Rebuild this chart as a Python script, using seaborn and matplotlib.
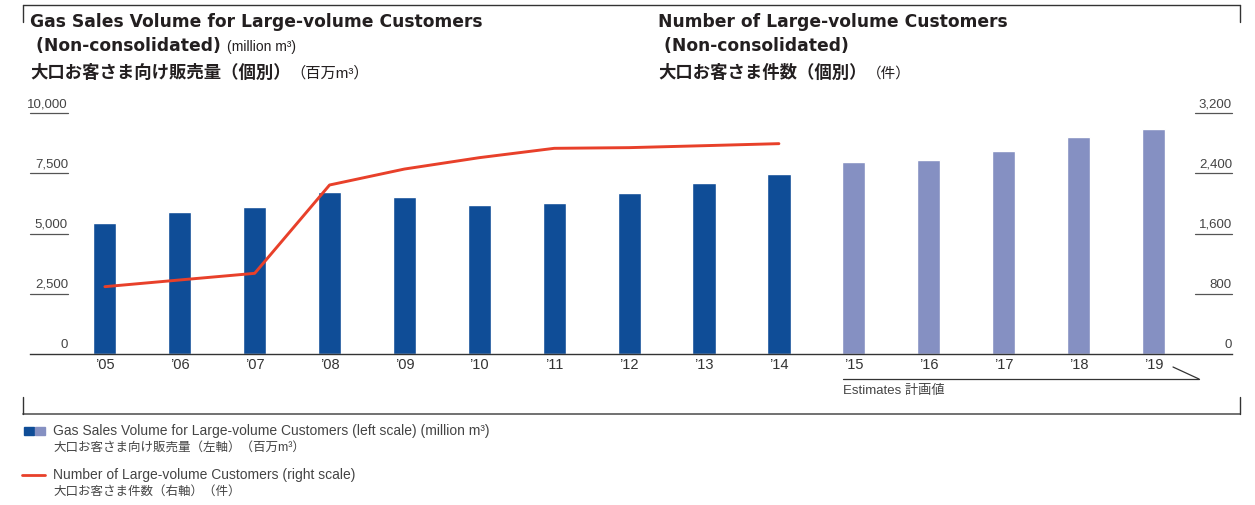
import matplotlib
matplotlib.use("Agg")
import matplotlib.pyplot as plt
from matplotlib.lines import Line2D
from matplotlib.transforms import blended_transform_factory
import seaborn as sns
import numpy as np
import pandas as pd

# data
years = ["’05", "’06", "’07", "’08", "’09", "’10", "’11", "’12", "’13", "’14",
         "’15", "’16", "’17", "’18", "’19"]
sales_volume = [5440, 5890, 6100, 6720, 6520, 6180, 6270, 6680, 7100, 7470,
                7970, 8050, 8420, 9000, 9340]
customers = [894, 983, 1071, 2244, 2456, 2607, 2731, 2740, 2766, 2793]
n_actual = 10
left_ticks = [0, 2500, 5000, 7500, 10000]
right_ticks = [0, 800, 1600, 2400, 3200]

DARK = "#0F4D97"
LIGHT = "#8590C2"
RED = "#E8402A"
TXT = "#231F20"
GREY = "#444444"

sns.set_theme(style="white")
plt.rcParams["font.family"] = ["Liberation Sans", "Noto Sans CJK JP", "DejaVu Sans"]
HEAD = ["DejaVu Sans", "Noto Sans CJK JP"]

W, H = 1255, 505
fig = plt.figure(figsize=(W / 100, H / 100), dpi=100)


def fx(x):
    return x / W


def fy(y):
    return 1 - y / H


ax = fig.add_axes([fx(30), fy(354), fx(1232) - fx(30), (354 - 113) / H])

df = pd.DataFrame({"year": years, "volume": sales_volume})
colors = [DARK if i < n_actual else LIGHT for i in range(len(years))]
sns.barplot(data=df, x="year", y="volume", hue="year", palette=colors,
            width=0.31, legend=False, ax=ax, saturation=1)

ax2 = ax.twinx()
sns.lineplot(x=np.arange(len(customers)), y=customers, ax=ax2, color=RED,
             linewidth=2.1)

ax.set_xlim(-1.0, 15.05)
ax.set_ylim(0, 10000)
ax2.set_ylim(0, 3200)
for a in (ax, ax2):
    a.set_xlabel("")
    a.set_ylabel("")
    a.set_yticks([])
    for s in a.spines.values():
        s.set_visible(False)
ax.spines["bottom"].set_visible(True)
ax.spines["bottom"].set_color("#333333")
ax.spines["bottom"].set_linewidth(1.0)
ax.set_xticks(range(len(years)))
ax.set_xticklabels(years, fontsize=10.5, color="#333333")
ax.tick_params(axis="x", length=0, pad=3)
ax.grid(False)
ax2.grid(False)

# left scale: labels sitting on short underlines
tl = blended_transform_factory(ax.transAxes, ax.transData)
uw = (68 - 30) / (1232 - 30)
for v in left_ticks:
    if v > 0:
        ax.plot([0, uw], [v, v], color="#555555", lw=0.9, transform=tl,
                clip_on=False)
    ax.text(uw, v + 120, f"{v:,}", ha="right", va="bottom", fontsize=9.5,
            color=GREY, transform=tl)

tr = blended_transform_factory(ax2.transAxes, ax2.transData)
ru = (1195 - 30) / (1232 - 30)
for v in right_ticks:
    if v > 0:
        ax2.plot([ru, 1], [v, v], color="#555555", lw=0.9, transform=tr,
                 clip_on=False)
    ax2.text(1, v + 38, f"{v:,}", ha="right", va="bottom", fontsize=9.5,
             color=GREY, transform=tr)

# titles with mixed weights
renderer = fig.canvas.get_renderer()


def put_run(x, y, parts):
    for s, size, weight, fam in parts:
        t = fig.text(fx(x), fy(y), s, fontsize=size, fontweight=weight,
                     color=TXT, va="baseline", ha="left", family=fam)
        x = t.get_window_extent(renderer).x1


BASE = plt.rcParams["font.family"]
put_run(30, 27, [("Gas Sales Volume for Large-volume Customers", 12.3, "bold", HEAD)])
put_run(30, 51, [(" (Non-consolidated) ", 12.3, "bold", HEAD),
                 ("(million m³)", 10, "normal", BASE)])
put_run(30, 78, [("大口お客さま向け販売量（個別）", 12.5, "bold", BASE),
                 ("（百万m³）", 11, "normal", BASE)])

put_run(658, 27, [("Number of Large-volume Customers", 12.3, "bold", HEAD)])
put_run(658, 51, [(" (Non-consolidated)", 12.3, "bold", HEAD)])
put_run(658, 78, [("大口お客さま件数（個別）", 12.5, "bold", BASE),
                  ("（件）", 10.5, "normal", BASE)])

# frame brackets
def seg(x0, y0, x1, y1, c="#333333", lw=1.0):
    fig.add_artist(Line2D([fx(x0), fx(x1)], [fy(y0), fy(y1)], color=c, lw=lw,
                          transform=fig.transFigure))


seg(23, 5, 1240, 5)
seg(23, 5, 23, 22)
seg(1240, 5, 1240, 22)
seg(23, 414, 1240, 414, c="#666666", lw=1.3)
seg(23, 397, 23, 414)
seg(1240, 397, 1240, 414)

# estimates bracket
seg(843, 379, 1199, 379, c="#333333", lw=0.9)
seg(1173, 367, 1199, 379, c="#333333", lw=0.9)
fig.text(fx(843), fy(391), "Estimates 計画値", fontsize=9.5, color=GREY,
         va="center", ha="left")

# legend
fig.add_artist(plt.Rectangle((fx(24), fy(435)), fx(10), 8 / H, color=DARK,
                             transform=fig.transFigure))
fig.add_artist(plt.Rectangle((fx(35), fy(435)), fx(10), 8 / H, color=LIGHT,
                             transform=fig.transFigure))
fig.text(fx(53), fy(431), "Gas Sales Volume for Large-volume Customers (left scale) (million m³)",
         fontsize=10, color=GREY, va="center")
fig.text(fx(53), fy(448), "大口お客さま向け販売量（左軸）（百万m³）",
         fontsize=9, color=GREY, va="center")
seg(22, 475, 45, 475, c=RED, lw=2.0)
fig.text(fx(53), fy(475), "Number of Large-volume Customers (right scale)",
         fontsize=10, color=GREY, va="center")
fig.text(fx(53), fy(492), "大口お客さま件数（右軸）（件）",
         fontsize=9, color=GREY, va="center")

fig.savefig("out.png", dpi=100)
